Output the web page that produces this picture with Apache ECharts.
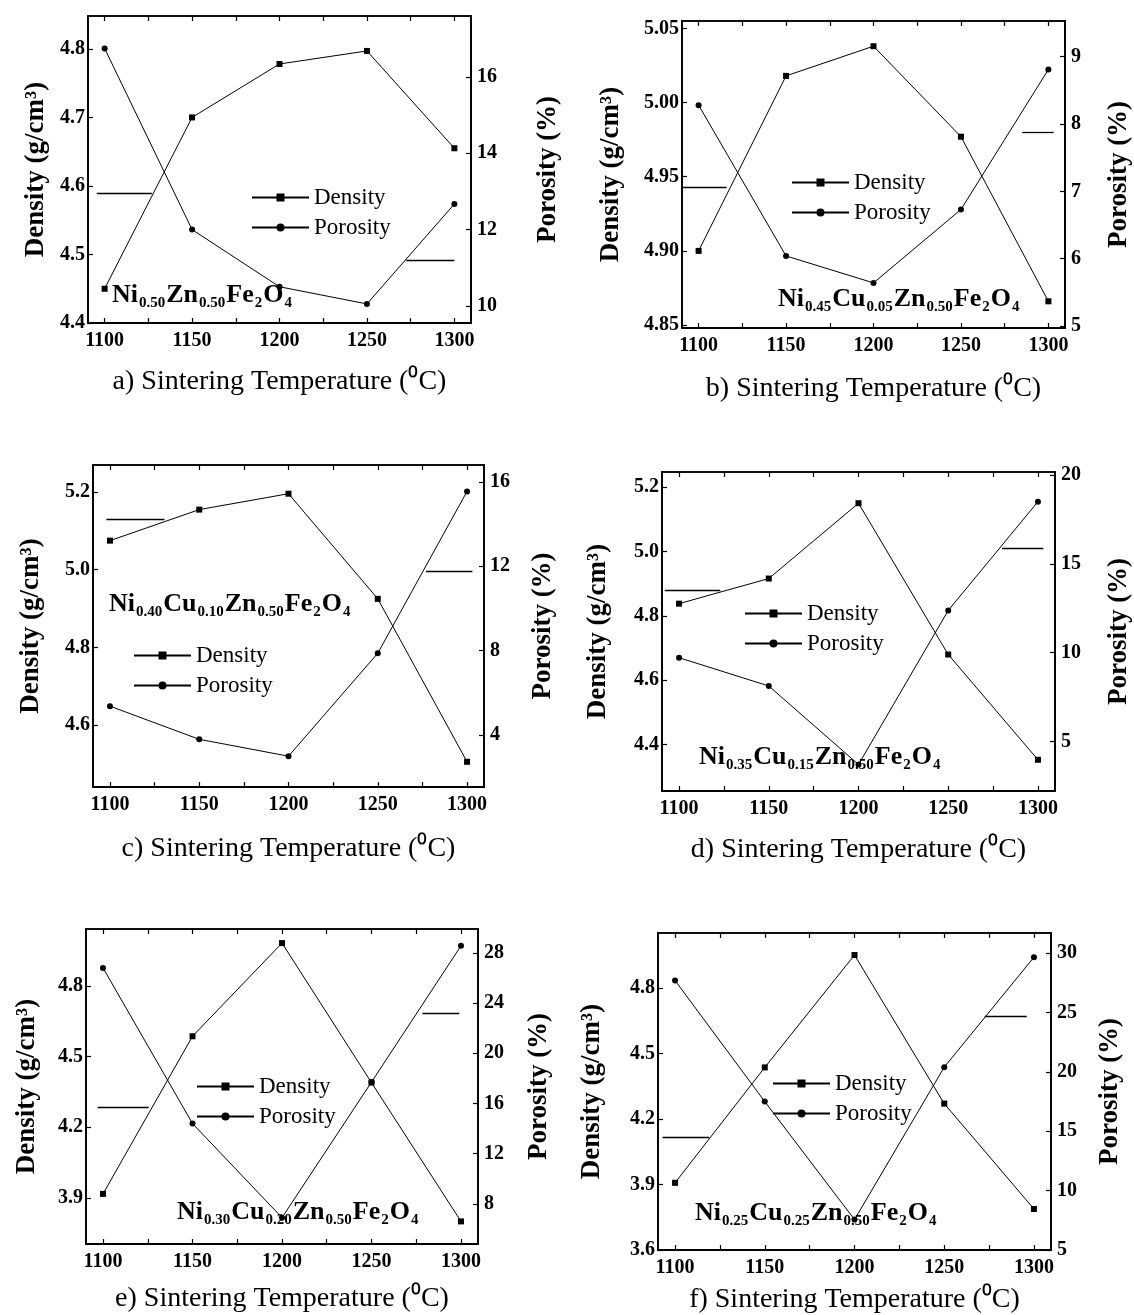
<!DOCTYPE html>
<html>
<head>
<meta charset="utf-8">
<script src="https://cdn.jsdelivr.net/npm/echarts@6/dist/echarts.min.js"></script>
<style>
  html, body { margin: 0; padding: 0; background: #fff; }
  #chart { width: 1134px; height: 1315px; }
</style>
</head>
<body>
<div id="chart"></div>
<script>
// shared x values
const temps = [1100, 1150, 1200, 1250, 1300];
const xTicks = [1100, 1150, 1200, 1250, 1300];
const xMinor = [1100, 1125, 1150, 1175, 1200, 1225, 1250, 1275, 1300];

// values
const densityA = [4.45, 4.70, 4.778, 4.797, 4.655];
const porosityA = [16.75, 12.0, 10.5, 10.05, 12.67];
const densityB = [4.90, 5.018, 5.038, 4.977, 4.866];
const porosityB = [8.28, 6.04, 5.64, 6.73, 8.81];
const densityC = [5.075, 5.155, 5.196, 4.925, 4.505];
const porosityC = [5.37, 3.8, 3.0, 7.88, 15.55];
const densityD = [4.838, 4.916, 5.15, 4.68, 4.353];
const porosityD = [9.72, 8.13, 3.71, 12.38, 18.5];
const densityE = [3.917, 4.587, 4.983, 4.39, 3.80];
const porosityE = [26.8, 14.4, 6.9, 17.7, 28.56];
const densityF = [3.908, 4.437, 4.952, 4.271, 3.788];
const porosityF = [27.7, 17.5, 7.56, 20.4, 29.66];

// tick labels
const leftTicksA = [4.4, 4.5, 4.6, 4.7, 4.8];
const rightTicksA = [10, 12, 14, 16];
const leftTicksB = [4.85, 4.90, 4.95, 5.00, 5.05];
const rightTicksB = [5, 6, 7, 8, 9];
const leftTicksC = [4.6, 4.8, 5.0, 5.2];
const rightTicksC = [4, 8, 12, 16];
const leftTicksD = [4.4, 4.6, 4.8, 5.0, 5.2];
const rightTicksD = [5, 10, 15, 20];
const leftTicksE = [3.9, 4.2, 4.5, 4.8];
const rightTicksE = [8, 12, 16, 20, 24, 28];
const leftTicksF = [3.6, 3.9, 4.2, 4.5, 4.8];
const rightTicksF = [5, 10, 15, 20, 25, 30];

// axis pointer lines [fromT, toT, value]
const densityArrowA = [1095.5, 1127, 4.589];
const porosityArrowA = [1272.5, 1300, 11.2];
const densityArrowB = [1091, 1116, 4.943];
const porosityArrowB = [1285, 1303, 7.88];
const densityArrowC = [1098, 1130.5, 5.129];
const porosityArrowC = [1277, 1303, 11.76];
const densityArrowD = [1092, 1123, 4.881];
const porosityArrowD = [1280, 1303, 15.9];
const densityArrowE = [1097, 1125.5, 4.284];
const porosityArrowE = [1278.5, 1299, 23.2];
const densityArrowF = [1093, 1119, 4.115];
const porosityArrowF = [1272.5, 1296, 24.7];

const FONT = '"Liberation Serif", "Times New Roman", serif';
const X_RANGE = [1090.5, 1309.5];

const panels = [
  { tag: 'a', d: densityA, p: porosityA, lt: leftTicksA, rt: rightTicksA, dec: 1, da: densityArrowA, pa: porosityArrowA,
    formula: [['Ni', '0.50'], ['Zn', '0.50'], ['Fe', '2'], ['O', '4']],
    grid: { left: 88, top: 16, width: 383, height: 307 }, yl: [4.4, 4.848], yr: [9.55, 17.6],
    gaps: [38, 64, 45], legend: { left: 251, top: 186 }, title: { left: 112, top: 282 } },
  { tag: 'b', d: densityB, p: porosityB, lt: leftTicksB, rt: rightTicksB, dec: 2, da: densityArrowB, pa: porosityArrowB,
    formula: [['Ni', '0.45'], ['Cu', '0.05'], ['Zn', '0.50'], ['Fe', '2'], ['O', '4']],
    grid: { left: 682, top: 21, width: 383, height: 307 }, yl: [4.848, 5.055], yr: [4.97, 9.53],
    gaps: [57, 41, 47], legend: { left: 791, top: 171 }, title: { left: 778, top: 286 } },
  { tag: 'c', d: densityC, p: porosityC, lt: leftTicksC, rt: rightTicksC, dec: 1, da: densityArrowC, pa: porosityArrowC,
    formula: [['Ni', '0.40'], ['Cu', '0.10'], ['Zn', '0.50'], ['Fe', '2'], ['O', '4']],
    grid: { left: 93, top: 465, width: 391, height: 322 }, yl: [4.44, 5.27], yr: [1.54, 16.8],
    gaps: [48, 46, 48], legend: { left: 133, top: 644 }, title: { left: 109, top: 591 } },
  { tag: 'd', d: densityD, p: porosityD, lt: leftTicksD, rt: rightTicksD, dec: 1, da: densityArrowD, pa: porosityArrowD,
    formula: [['Ni', '0.35'], ['Cu', '0.15'], ['Zn', '0.50'], ['Fe', '2'], ['O', '4']],
    grid: { left: 662, top: 472, width: 393, height: 319 }, yl: [4.256, 5.247], yr: [2.22, 20.17],
    gaps: [50, 51, 45], legend: { left: 744, top: 602 }, title: { left: 699, top: 744 } },
  { tag: 'e', d: densityE, p: porosityE, lt: leftTicksE, rt: rightTicksE, dec: 1, da: densityArrowE, pa: porosityArrowE,
    formula: [['Ni', '0.30'], ['Cu', '0.20'], ['Zn', '0.50'], ['Fe', '2'], ['O', '4']],
    grid: { left: 86, top: 929, width: 392, height: 315 }, yl: [3.704, 5.043], yr: [4.8, 29.9],
    gaps: [45, 48, 41], legend: { left: 196, top: 1075 }, title: { left: 177, top: 1199 } },
  { tag: 'f', d: densityF, p: porosityF, lt: leftTicksF, rt: rightTicksF, dec: 1, da: densityArrowF, pa: porosityArrowF,
    formula: [['Ni', '0.25'], ['Cu', '0.25'], ['Zn', '0.50'], ['Fe', '2'], ['O', '4']],
    grid: { left: 658, top: 933, width: 393, height: 317 }, yl: [3.6, 5.053], yr: [5.0, 31.7],
    gaps: [52, 46, 36], legend: { left: 772, top: 1072 }, title: { left: 695, top: 1200 } }
];

const black = '#000';
const tickLabel = { fontFamily: FONT, fontSize: 20, fontWeight: 'bold', color: black };

const grids = [], xAxes = [], yAxes = [], series = [], legends = [], titles = [];

panels.forEach((pn, i) => {
  grids.push(Object.assign({ show: true, borderColor: black, borderWidth: 1.5, backgroundColor: 'transparent' }, pn.grid));

  // bottom axis with labels
  xAxes.push({
    type: 'value', gridIndex: i, position: 'bottom', min: X_RANGE[0], max: X_RANGE[1],
    name: pn.tag + ') Sintering Temperature (⁰C)', nameLocation: 'middle', nameGap: pn.gaps[2],
    nameTextStyle: { fontFamily: FONT, fontSize: 28, color: black },
    axisLine: { onZero: false, lineStyle: { color: black, width: 1.8 } },
    axisTick: { inside: true, length: 5, customValues: xMinor, lineStyle: { color: black, width: 1.2 } },
    axisLabel: Object.assign({ customValues: xTicks, margin: 8, formatter: v => String(v) }, tickLabel),
    splitLine: { show: false }
  });
  // top mirror axis
  xAxes.push({
    type: 'value', gridIndex: i, position: 'top', min: X_RANGE[0], max: X_RANGE[1],
    axisLine: { onZero: false, lineStyle: { color: black, width: 1.5 } },
    axisTick: { inside: true, length: 5, customValues: xMinor, lineStyle: { color: black, width: 1.2 } },
    axisLabel: { show: false }, splitLine: { show: false }
  });

  yAxes.push({
    type: 'value', gridIndex: i, position: 'left', min: pn.yl[0], max: pn.yl[1],
    name: 'Density (g/cm³)', nameLocation: 'middle', nameGap: pn.gaps[0], nameRotate: 90,
    nameTextStyle: { fontFamily: FONT, fontSize: 27, fontWeight: 'bold', color: black },
    axisLine: { show: true, onZero: false, lineStyle: { color: black, width: 1.8 } },
    axisTick: { show: true, inside: true, length: 5, customValues: pn.lt, lineStyle: { color: black, width: 1.2 } },
    axisLabel: Object.assign({ customValues: pn.lt, margin: 3, formatter: v => v.toFixed(pn.dec) }, tickLabel),
    splitLine: { show: false }
  });
  yAxes.push({
    type: 'value', gridIndex: i, position: 'right', min: pn.yr[0], max: pn.yr[1],
    name: 'Porosity (%)', nameLocation: 'middle', nameGap: pn.gaps[1], nameRotate: 90,
    nameTextStyle: { fontFamily: FONT, fontSize: 27, fontWeight: 'bold', color: black },
    axisLine: { show: true, onZero: false, lineStyle: { color: black, width: 1.8 } },
    axisTick: { show: true, inside: true, length: 5, customValues: pn.rt, lineStyle: { color: black, width: 1.2 } },
    axisLabel: Object.assign({ customValues: pn.rt, margin: 6, formatter: v => String(v) }, tickLabel),
    splitLine: { show: false }
  });

  const arrowLine = a => ({
    symbol: 'none', silent: true, label: { show: false },
    lineStyle: { color: black, width: 1.3, type: 'solid' },
    data: [[{ coord: [a[0], a[2]] }, { coord: [a[1], a[2]] }]]
  });

  series.push({
    name: 'Density', type: 'line', xAxisIndex: 2 * i, yAxisIndex: 2 * i,
    data: temps.map((t, j) => [t, pn.d[j]]),
    symbol: 'rect', symbolSize: 6, color: black,
    lineStyle: { color: black, width: 1 }, itemStyle: { color: black },
    markLine: arrowLine(pn.da), animation: false
  });
  series.push({
    name: 'Porosity', type: 'line', xAxisIndex: 2 * i, yAxisIndex: 2 * i + 1,
    data: temps.map((t, j) => [t, pn.p[j]]),
    symbol: 'circle', symbolSize: 6, color: black,
    lineStyle: { color: black, width: 1 }, itemStyle: { color: black },
    markLine: arrowLine(pn.pa), animation: false
  });

  legends.push({
    left: pn.legend.left, top: pn.legend.top, orient: 'vertical', padding: 0,
    itemWidth: 57, itemHeight: 10, itemGap: 7, selectedMode: false,
    data: ['Density', 'Porosity'],
    textStyle: { fontFamily: FONT, fontSize: 23, color: black }
  });

  titles.push({
    left: pn.title.left, top: pn.title.top, padding: 0,
    text: pn.formula.map(f => '{m|' + f[0] + '}{s|' + f[1] + '}').join(''),
    textStyle: {
      rich: {
        m: { fontFamily: FONT, fontSize: 26, fontWeight: 'bold', color: black, lineHeight: 26 },
        s: { fontFamily: FONT, fontSize: 15, fontWeight: 'bold', color: black, lineHeight: 15, padding: [17, 1, 0, 1] }
      }
    }
  });
});

const chart = echarts.init(document.getElementById('chart'));
chart.setOption({
  backgroundColor: '#fff',
  animation: false,
  title: titles,
  legend: legends,
  grid: grids,
  xAxis: xAxes,
  yAxis: yAxes,
  series: series
});
</script>
</body>
</html>
